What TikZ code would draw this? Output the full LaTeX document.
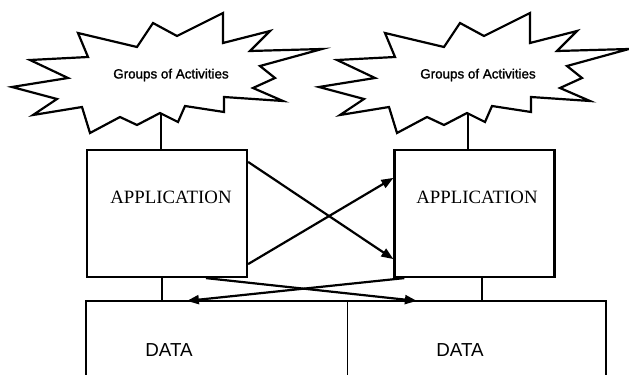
\documentclass[tikz,border=0pt]{standalone}
\usepackage{fontspec}
\setmainfont{Liberation Serif}
\newfontfamily\grpfont{Liberation Sans}
\newfontfamily\grpboldfont[FakeBold=1.5]{Liberation Sans}
\usetikzlibrary{arrows.meta,calc}

\begin{document}
\begin{tikzpicture}[x=0.5pt,y=-0.5pt,line width=1.1pt,
        box/.style={rectangle,draw=black,line width=1.1pt,inner sep=0pt,minimum width=80pt,minimum height=63.5pt},
        half/.style={rectangle,inner sep=0pt,minimum width=129.5pt,minimum height=36.5pt},
        apptxt/.style={font=\fontsize{9.4}{11}\selectfont,inner sep=0pt},
        datatxt/.style={font=\grpfont\fontsize{9.4}{11}\selectfont,inner sep=0pt},
        grp/.style={font=\grpboldfont\fontsize{6.7}{8}\selectfont,inner sep=0pt},
        arr/.style={-{Triangle[length=6pt,width=4.5pt]}}]
        \fill[white] (0,0) rectangle (629,375);
        \useasboundingbox (0,0) rectangle (629,375);
        \foreach \dx/\nm in {0/L,307/R}{
            \draw[shift={(\dx,0)}] (12,87) -- (68,78) -- (30,60) -- (88,57) -- (78,33) -- (137,47)
                -- (153,23) -- (177,36) -- (223,13) -- (223,43) -- (270,31) -- (250,51) -- (322,49)
                -- (260,66) -- (275,78) -- (253,88) -- (283,101) -- (224,97) -- (224,112) -- (185,106)
                -- (178,122) -- (160,113) -- (137,125) -- (120,117) -- (90,133) -- (82,107) -- (33,115)
                -- (57,99) -- cycle;
            \node[grp] (grp\nm) at (171+\dx,75) {Groups of Activities};
            \coordinate (foot\nm) at (161+\dx,113);
        }
        \node[box] (appL) at (167,213.5) {};
        \node[box] (appR) at (474.5,213.5) {};
        \node[apptxt] (appLtxt) at (171,197) {APPLICATION};
        \node[apptxt] (appRtxt) at (477,197) {APPLICATION};
        \node[half] (dataL) at (216.5,338.5) {};
        \node[half] (dataR) at (475.5,338.5) {};
        \node[datatxt] (dataLtxt) at (169,350) {DATA};
        \node[datatxt] (dataRtxt) at (460,350) {DATA};
        \draw (dataL.south west) |- (dataR.north east) -- (dataR.south east);
        \draw[line width=0.5pt] (dataL.north east) -- (dataL.south east);
        \coordinate (linkL) at (162,0);
        \coordinate (linkR) at (482,0);
        \draw (footL) -- (appL.north -| footL);
        \draw (footR) -- (appR.north -| footR);
        \draw (appL.south -| linkL) -- (dataL.north -| linkL);
        \draw (appR.south -| linkR) -- (dataR.north -| linkR);
        \draw[arr] ($(appL.north east)+(0,13)$) -- ($(appR.south west)+(0,-19)$);
        \draw[arr] ($(appL.south east)+(0,-14)$) -- ($(appR.north west)+(0,29)$);
        \draw[arr] ($(appL.south west)+(120,0)$) -- ($(dataR.north west)+(72,0)$);
        \draw[arr] ($(appR.south west)+(11,0)$) -- ($(dataL.north west)+(101,0)$);
\end{tikzpicture}
\end{document}
